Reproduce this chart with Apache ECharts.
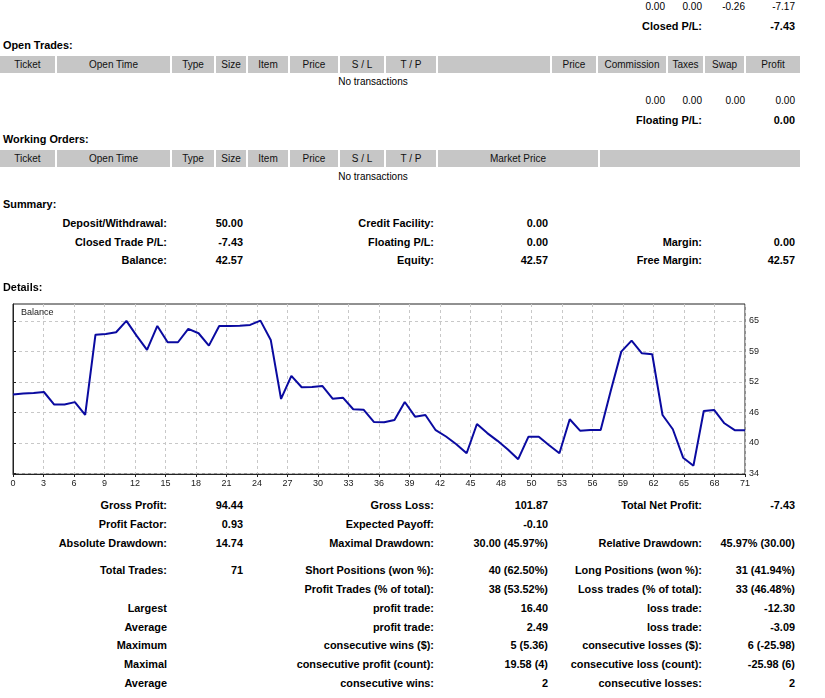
<!DOCTYPE html>
<html>
<head>
<meta charset="utf-8">
<script src="https://cdn.jsdelivr.net/npm/echarts@6/dist/echarts.min.js"></script>
<style>
html,body{margin:0;padding:0;background:#fff;overflow:hidden;}
body{width:825px;height:698px;position:relative;font-family:"Liberation Sans",Arial,sans-serif;color:#000;}
.t{position:absolute;white-space:nowrap;line-height:14px;height:14px;font-size:10px;}
.b{font-weight:bold;font-size:10.9px;}
.cell{position:absolute;height:17px;background:#c6c6c6;font-size:10px;line-height:17px;text-align:center;color:#111;white-space:nowrap;}
#chart{position:absolute;left:0;top:290px;width:825px;height:205px;}
</style>
</head>
<body>
<div id="chart"></div>
<script>
// ---- chart data ----
const tradeIndex = [0,1,2,3,4,5,6,7,8,9,10,11,12,13,14,15,16,17,18,19,20,21,22,23,24,25,26,27,28,29,30,31,32,33,34,35,36,37,38,39,40,41,42,43,44,45,46,47,48,49,50,51,52,53,54,55,56,57,58,59,60,61,62,63,64,65,66,67,68,69,70,71];
const balance = [50.00,50.2,50.3,50.5,47.9,47.9,48.4,45.75,62.36,62.5,
  62.86,65.2,62.1,59.2,64.16,60.79,60.79,63.54,62.65,60.09,
  64.16,64.16,64.2,64.37,65.26,61.27,49.06,53.82,51.48,51.54,
  51.75,49.12,49.33,46.93,46.85,44.3,44.24,44.72,48.44,45.4,
  45.75,42.6,41.3,39.7,37.83,43.89,42.0,40.4,38.6,36.6,
  41.26,41.26,39.5,37.83,44.86,42.5,42.65,42.65,50.92,58.85,
  61.12,58.51,58.31,45.75,42.79,36.91,35.26,46.58,46.78,44.03,
  42.6,42.57];
const xTickLabels = [0,3,6,9,12,15,18,21,24,27,30,33,36,39,42,45,48,50,53,56,59,62,65,68,71];
const xTickValues = [0,2.958,5.917,8.875,11.833,14.792,17.75,20.708,23.667,26.625,29.583,32.542,35.5,38.458,41.417,44.375,47.333,50.292,53.25,56.208,59.167,62.125,65.083,68.042,71];
const yTickLabels = [34,40,46,52,59,65];
const yTickValues = [33.7,40.0,46.3,52.6,58.9,65.2];

// ---- text blocks ----
const texts = [];
function T(s,x,y,align,bold){texts.push([s,x,y,align,bold]);}
T('0.00',665,7,'r');T('0.00',702,7,'r');T('-0.26',745,7,'r');T('-7.17',795,7,'r');
T('Closed P/L:',702,26,'r',1);T('-7.43',795,26,'r',1);
T('Open Trades:',3,45,'l',1);
T('No transactions',373,82,'c');
T('0.00',665,101,'r');T('0.00',702,101,'r');T('0.00',745,101,'r');T('0.00',795,101,'r');
T('Floating P/L:',702,120,'r',1);T('0.00',795,120,'r',1);
T('Working Orders:',3,139,'l',1);
T('No transactions',373,177,'c');
T('Summary:',3,204,'l',1);
const cols=[167,243,434,548,702,795];
function row(y,arr){arr.forEach((s,i)=>{if(s!=='')T(s,cols[i],y,'r',1);});}
row(223,['Deposit/Withdrawal:','50.00','Credit Facility:','0.00','','']);
row(242,['Closed Trade P/L:','-7.43','Floating P/L:','0.00','Margin:','0.00']);
row(260,['Balance:','42.57','Equity:','42.57','Free Margin:','42.57']);
T('Details:',3,287,'l',1);
row(505,['Gross Profit:','94.44','Gross Loss:','101.87','Total Net Profit:','-7.43']);
row(524,['Profit Factor:','0.93','Expected Payoff:','-0.10','','']);
row(543,['Absolute Drawdown:','14.74','Maximal Drawdown:','30.00 (45.97%)','Relative Drawdown:','45.97% (30.00)']);
row(570,['Total Trades:','71','Short Positions (won %):','40 (62.50%)','Long Positions (won %):','31 (41.94%)']);
row(589,['','','Profit Trades (% of total):','38 (53.52%)','Loss trades (% of total):','33 (46.48%)']);
row(608,['Largest','','profit trade:','16.40','loss trade:','-12.30']);
row(627,['Average','','profit trade:','2.49','loss trade:','-3.09']);
row(645,['Maximum','','consecutive wins ($):','5 (5.36)','consecutive losses ($):','6 (-25.98)']);
row(664,['Maximal','','consecutive profit (count):','19.58 (4)','consecutive loss (count):','-25.98 (6)']);
row(683,['Average','','consecutive wins:','2','consecutive losses:','2']);

texts.forEach(([s,x,y,a,b])=>{
  const d=document.createElement('div');
  d.className='t'+(b?' b':'');
  d.textContent=s;
  d.style.top=(y-7)+'px';
  if(a==='r'){d.style.left=(x-300)+'px';d.style.width='300px';d.style.textAlign='right';}
  else if(a==='c'){d.style.left=(x-150)+'px';d.style.width='300px';d.style.textAlign='center';}
  else {d.style.left=x+'px';}
  document.body.appendChild(d);
});

function header(top,bounds,labels){
  for(let i=0;i<labels.length;i++){
    const d=document.createElement('div');
    d.className='cell';
    d.style.top=top+'px';
    d.style.left=bounds[i]+'px';
    d.style.width=(bounds[i+1]-bounds[i]-(i<labels.length-1?2:0))+'px';
    d.textContent=labels[i];
    document.body.appendChild(d);
  }
}
header(56,[0,57,172,216,248,290,340,386,438,552,598,668,705,746,800],
  ['Ticket','Open Time','Type','Size','Item','Price','S / L','T / P','','Price','Commission','Taxes','Swap','Profit']);
header(150,[0,57,172,216,248,290,340,386,438,600,800],
  ['Ticket','Open Time','Type','Size','Item','Price','S / L','T / P','Market Price','']);

// ---- chart ----
function nearestLabel(vals,labels,v){let bi=0,bd=1e9;vals.forEach((t,i)=>{const d=Math.abs(t-v);if(d<bd){bd=d;bi=i;}});return String(labels[bi]);}
const chart=echarts.init(document.getElementById('chart'),null,{renderer:'canvas'});
chart.setOption({
  animation:false,
  backgroundColor:'#fff',
  title:{text:'Balance',left:16,top:13,textStyle:{fontSize:9,fontWeight:'normal',color:'#222',fontFamily:'Liberation Sans'}},
  grid:{left:13,top:14,width:732,height:170,show:true,borderColor:'#222',borderWidth:1,backgroundColor:'transparent'},
  xAxis:{type:'value',min:0,max:71,
    axisLine:{show:true,lineStyle:{color:'#222'}},
    axisTick:{show:true,length:3,customValues:xTickValues,lineStyle:{color:'#222'}},
    axisLabel:{customValues:xTickValues,margin:5,fontSize:9,color:'#222',fontFamily:'Liberation Sans',
      formatter:v=>nearestLabel(xTickValues,xTickLabels,v)},
    splitLine:{show:true,lineStyle:{color:'#c8c8c8',type:[3,3]}}},
  yAxis:{type:'value',position:'right',min:33.54,max:68.7,
    axisLine:{show:true,lineStyle:{color:'#222'}},
    axisTick:{show:true,length:3,customValues:yTickValues,lineStyle:{color:'#222'}},
    axisLabel:{customValues:yTickValues,margin:4,fontSize:9,color:'#222',fontFamily:'Liberation Sans',
      formatter:v=>nearestLabel(yTickValues,yTickLabels,v)},
    splitLine:{show:true,lineStyle:{color:'#c8c8c8',type:[3,3]}}},
  series:[{type:'line',data:tradeIndex.map((x,i)=>[x,balance[i]]),showSymbol:false,
    lineStyle:{color:'#0a0aa0',width:2},itemStyle:{color:'#0a0aa0'}}]
});
</script>
</body>
</html>
